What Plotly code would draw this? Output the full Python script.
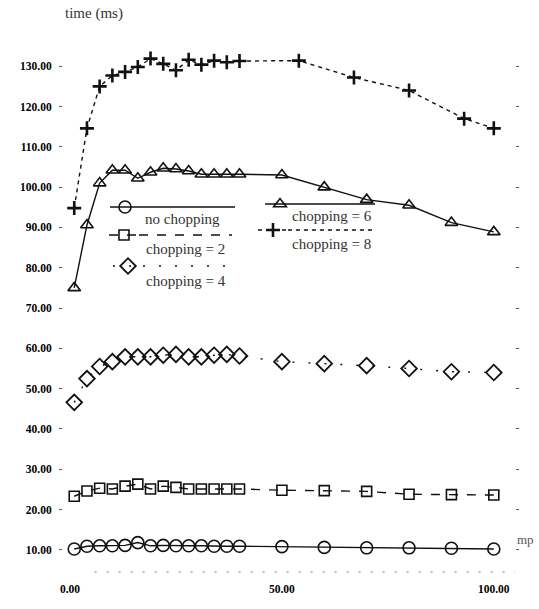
import plotly.graph_objects as go

# ---- data ----
x_dense = [1, 4, 7, 10, 13, 16, 19, 22, 25, 28, 31, 34, 37, 40]
x_sparse = [50, 60, 70, 80, 90, 100]
x_main = x_dense + x_sparse
x_chop8 = x_dense + [54, 67, 80, 93, 100]

no_chopping = [10.2, 10.9, 11.0, 11.0, 11.1, 11.8, 11.0, 11.1, 11.0, 11.0, 11.0, 10.9, 10.9, 10.9,
               10.8, 10.6, 10.5, 10.5, 10.4, 10.2]
chopping_2 = [23.3, 24.6, 25.3, 25.1, 25.8, 26.3, 25.1, 25.8, 25.5, 25.1, 25.1, 25.1, 25.1, 25.1,
              24.8, 24.7, 24.5, 23.8, 23.7, 23.6]
chopping_4 = [46.6, 52.5, 55.5, 56.7, 57.9, 57.9, 57.9, 58.3, 58.5, 57.9, 57.9, 58.3, 58.5, 58.1,
              56.7, 56.2, 55.7, 55.0, 54.2, 54.0]
chopping_6 = [75.0, 90.6, 101.0, 104.2, 104.2, 102.2, 103.7, 104.7, 104.5, 104.0, 103.2, 103.2, 103.2, 103.2,
              103.0, 100.0, 96.9, 95.5, 91.2, 88.9]
chopping_8 = [94.8, 114.6, 125.0, 127.7, 128.6, 129.8, 131.9, 130.6, 129.0, 131.6, 130.4, 131.4, 131.0, 131.3,
              131.4, 127.2, 124.0, 117.0, 114.6]

series_names = ["no chopping", "chopping = 2", "chopping = 4", "chopping = 6", "chopping = 8"]

y_ticks = [10, 20, 30, 40, 50, 60, 70, 80, 90, 100, 110, 120, 130]
x_ticks = [0, 50, 100]
x_tick_text = ["0.00", "50.00", "100.00"]

FONT = "Liberation Serif, Times New Roman, serif"
INK = "#111111"

# plot-area geometry (pixels) used to place legend pieces
L, R, T, B, W, H = 63, 24, 30, 37, 539, 609
PW, PH = W - L - R, H - T - B


def px(xp):
    return (xp - L) / PW


def py(yp):
    return (H - B - yp) / PH


# legend layout: (marker centre x, y, line end x, text centre x, text y) in pixels
legend_pos = [
    (125, 207, 235, 182, 219),
    (124, 235, 232, 185, 249),
    (128, 266, 230, 186, 281),
    (280, 204, 375, 332, 216),
    (273, 230, 375, 331, 244),
]

styles = [
    ("circle-open", 12, 1.6, "solid"),
    ("square-open", 10, 1.6, "dash"),
    ("diamond-open", 12, 1.8, "2px,14px"),
    ("triangle-up-open", 11, 1.6, "solid"),
    ("cross-thin-open", 10, 2.6, "4px,4px"),
]
data = [(x_main, no_chopping), (x_main, chopping_2), (x_main, chopping_4),
        (x_main, chopping_6), (x_chop8, chopping_8)]

fig = go.Figure()
legends = {}
annotations = []
shapes = []
for i, ((xs, ys), (sym, size, mlw, dash), name, pos) in enumerate(zip(data, styles, series_names, legend_pos)):
    leg_id = "legend" if i == 0 else f"legend{i + 1}"
    fig.add_trace(go.Scatter(
        x=xs, y=ys, name=" ", mode="lines+markers",
        line=dict(color=INK, width=1.4, dash=dash),
        marker=dict(symbol=sym, size=size, color=INK, line=dict(width=mlw)),
        legend=leg_id, hovertext=name,
    ))
    mx, my, lend, tx, ty = pos
    legends[leg_id] = dict(x=px(mx - 20), y=py(my), xanchor="left", yanchor="middle",
                           bgcolor="rgba(0,0,0,0)", borderwidth=0, itemwidth=30,
                           font=dict(family=FONT, size=10))
    shapes.append(dict(type="line", xref="paper", yref="paper",
                       x0=px(mx + 15), x1=px(lend), y0=py(my), y1=py(my),
                       line=dict(color=INK, width=1.4, dash=dash)))
    annotations.append(dict(text=name, xref="paper", yref="paper", x=px(tx), y=py(ty),
                            xanchor="center", yanchor="middle", showarrow=False,
                            font=dict(family=FONT, size=15, color="#333")))

annotations += [
    dict(text="time (ms)", xref="paper", yref="paper", x=0.0, y=1.0, yshift=6,
         xanchor="left", yanchor="bottom", showarrow=False,
         font=dict(family=FONT, size=15, color="#333")),
    dict(text="mp", xref="paper", yref="paper", x=1.0, y=0.06, xshift=0,
         xanchor="left", yanchor="middle", showarrow=False,
         font=dict(family=FONT, size=13, color="#555")),
]
shapes.append(dict(type="line", xref="paper", yref="paper", x0=0.07, x1=1.0, y0=0, y1=0,
                   line=dict(color="#777", width=1, dash="2px,10px")))

tick_font = dict(size=11.5, family=FONT, color="#000", weight="bold")

fig.update_layout(
    width=W, height=H,
    margin=dict(l=L, r=R, t=T, b=B),
    paper_bgcolor="white", plot_bgcolor="white",
    font=dict(family=FONT, color=INK, size=11),
    showlegend=True,
    xaxis=dict(range=[-1.65, 105], tickvals=x_ticks, ticktext=x_tick_text,
               showgrid=False, zeroline=False, showline=False,
               ticks="", ticklabelstandoff=8, tickfont=tick_font),
    yaxis=dict(range=[4.5, 139], tickvals=y_ticks, tickformat=".2f",
               showgrid=False, zeroline=False, showline=False, mirror="ticks",
               ticks="outside", ticklen=3, tickcolor="#555", tickwidth=1,
               ticklabelstandoff=5, tickfont=tick_font),
    annotations=annotations,
    shapes=shapes,
    **legends,
)

fig.write_html("out.html", config={"displayModeBar": False},
               post_script="document.body.style.margin='0';document.body.style.overflow='hidden';")
